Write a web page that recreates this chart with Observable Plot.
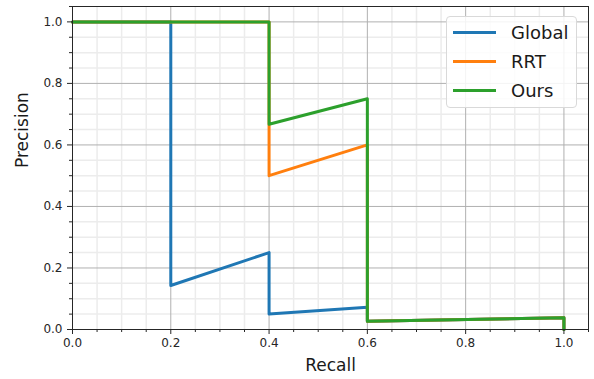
<!DOCTYPE html>
<html>
<head>
<meta charset="utf-8">
<script src="https://cdn.jsdelivr.net/npm/d3@7"></script>
<script src="https://cdn.jsdelivr.net/npm/@observablehq/plot@0.6"></script>
<style>
  html, body { margin: 0; padding: 0; background: #fff; }
  #wrap { position: relative; width: 594px; height: 379px; font-family: "DejaVu Sans", sans-serif; }
  #legend { position: absolute; left: 446px; top: 16px; width: 131px; height: 92px; box-sizing: border-box;
    border: 1px solid #d9d9d9; border-radius: 4px; background: rgba(255,255,255,0.85); }
  .item { position: absolute; left: 0; height: 20px; display: flex; align-items: center; }
  .sw { display: inline-block; width: 43px; height: 3px; margin-left: 6px; margin-right: 15px; }
  .lab { font-size: 18px; color: #1a1a1a; }
</style>
</head>
<body>
<div id="wrap"></div>
<script>
// Data
const seriesNames = ["Global", "RRT", "Ours"];
const seriesColors = ["#1f77b4", "#ff7f0e", "#2ca02c"];
const recallGlobal = [0, 0.2, 0.2, 0.4, 0.4, 0.6, 0.6, 1.0, 1.0];
const precisionGlobal = [1.0, 1.0, 0.143, 0.25, 0.05, 0.072, 0.027, 0.038, 0.0];
const recallRRT = [0, 0.4, 0.4, 0.6, 0.6, 1.0, 1.0];
const precisionRRT = [1.0, 1.0, 0.5, 0.6, 0.027, 0.038, 0.0];
const recallOurs = [0, 0.4, 0.4, 0.6, 0.6, 1.0, 1.0];
const precisionOurs = [1.0, 1.0, 0.667, 0.75, 0.027, 0.038, 0.0];
const majorTicks = [0, 0.2, 0.4, 0.6, 0.8, 1.0];
const minorTicks = [0.05, 0.1, 0.15, 0.25, 0.3, 0.35, 0.45, 0.5, 0.55, 0.65, 0.7, 0.75, 0.85, 0.9, 0.95, 1.05];
const xLabel = "Recall";
const yLabel = "Precision";

const toRows = (xs, ys, name) => xs.map((x, i) => ({recall: x, precision: ys[i], series: name}));
const allRecall = [recallGlobal, recallRRT, recallOurs];
const allPrecision = [precisionGlobal, precisionRRT, precisionOurs];
const rows = seriesNames.map((n, i) => toRows(allRecall[i], allPrecision[i], n));

const minorGridColor = "#ececec";
const majorGridColor = "#b0b0b0";

const chart = Plot.plot({
  width: 594,
  height: 379,
  marginLeft: 72,
  marginRight: 6,
  marginTop: 6,
  marginBottom: 50,
  style: {fontFamily: "DejaVu Sans, sans-serif", fontSize: "12px", color: "#262626", background: "#fff"},
  x: {domain: [0, 1.05]},
  y: {domain: [0, 1.05]},
  marks: [
    Plot.ruleX(minorTicks.filter(d => d < 1.05), {stroke: minorGridColor, strokeWidth: 1.5}),
    Plot.ruleY(minorTicks.filter(d => d < 1.05), {stroke: minorGridColor, strokeWidth: 1.5}),
    Plot.ruleX(majorTicks, {stroke: majorGridColor, strokeWidth: 1}),
    Plot.ruleY(majorTicks, {stroke: majorGridColor, strokeWidth: 1}),
    ...rows.map((r, i) => Plot.line(r, {x: "recall", y: "precision", stroke: seriesColors[i], strokeWidth: 3, curve: "linear"})),
    Plot.frame({stroke: "#262626", strokeWidth: 1}),
    Plot.axisX(majorTicks, {tickSize: 5, tickPadding: 4, tickFormat: d3.format(".1f"), label: null, fontSize: 12, stroke: "#262626", fill: "#262626"}),
    Plot.axisX(minorTicks, {tickSize: 3, tickFormat: () => "", label: null, stroke: "#262626"}),
    Plot.axisY(majorTicks, {tickSize: 5, tickPadding: 5, tickFormat: d3.format(".1f"), label: null, fontSize: 12, stroke: "#262626", fill: "#262626"}),
    Plot.axisY(minorTicks, {tickSize: 3, tickFormat: () => "", label: null, stroke: "#262626"}),
    Plot.text([xLabel], {frameAnchor: "bottom", dy: 41, text: d => d, fontSize: 17, fill: "#1a1a1a"}),
    Plot.text([yLabel], {frameAnchor: "left", dx: -50, rotate: -90, text: d => d, fontSize: 17, fill: "#1a1a1a"})
  ]
});

const wrap = document.getElementById("wrap");
wrap.appendChild(chart);

const legend = document.createElement("div");
legend.id = "legend";
seriesNames.forEach((n, i) => {
  const item = document.createElement("div");
  item.className = "item";
  item.style.top = (5 + i * 29) + "px";
  const sw = document.createElement("span");
  sw.className = "sw";
  sw.style.background = seriesColors[i];
  const lab = document.createElement("span");
  lab.className = "lab";
  lab.textContent = n;
  item.appendChild(sw);
  item.appendChild(lab);
  legend.appendChild(item);
});
wrap.appendChild(legend);
</script>
</body>
</html>
